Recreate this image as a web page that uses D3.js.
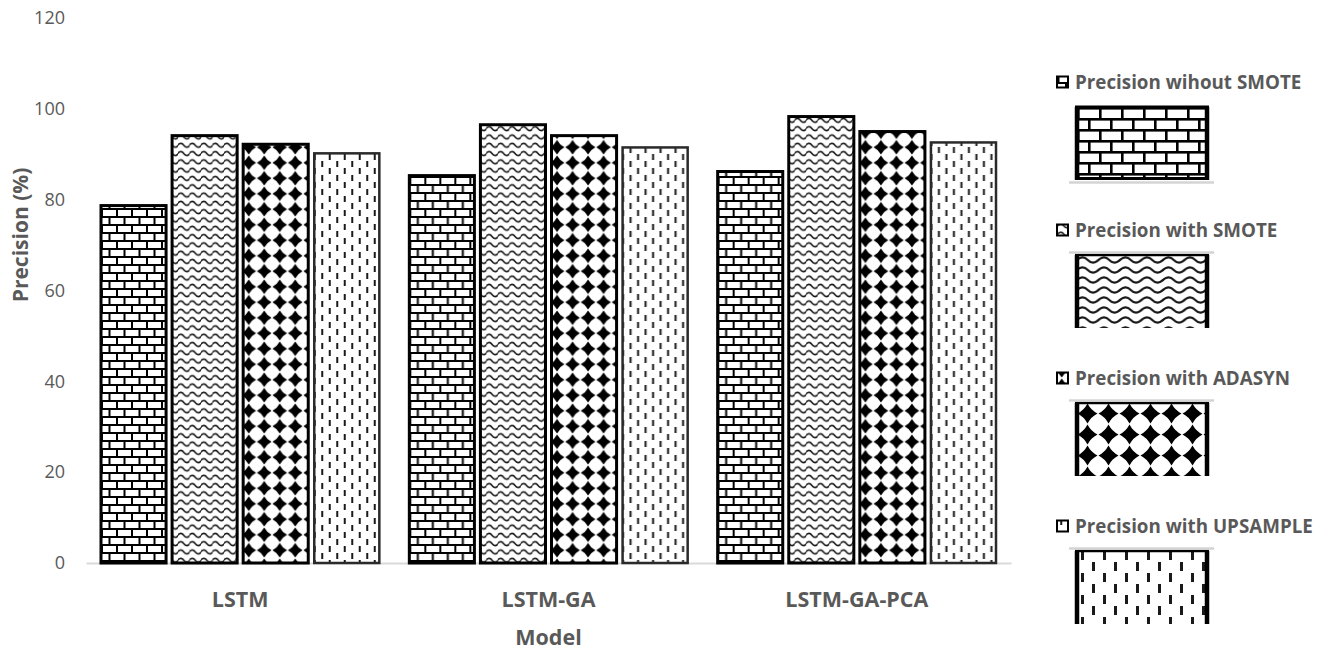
<!DOCTYPE html>
<html>
<head>
<meta charset="utf-8">
<script src="https://cdn.jsdelivr.net/npm/d3@7"></script>
<style>
  body { margin: 0; background: #fff; }
  text { font-family: "Open Sans", sans-serif; fill: #595959; }
</style>
</head>
<body>
<svg id="chart" width="1327" height="650"></svg>
<script>
// Precision (%) per model for each resampling strategy
const models = ["LSTM", "LSTM-GA", "LSTM-GA-PCA"];
const seriesNames = [
  "Precision wihout SMOTE",
  "Precision with SMOTE",
  "Precision with ADASYN",
  "Precision with UPSAMPLE"
];
const precisionNoSmote  = [78.7, 85.3, 86.2];
const precisionSmote    = [94.1, 96.5, 98.3];
const precisionAdasyn   = [92.2, 94.1, 95.0];
const precisionUpsample = [90.2, 91.5, 92.6];
const yTicks = [0, 20, 40, 60, 80, 100, 120];

const seriesValues = [precisionNoSmote, precisionSmote, precisionAdasyn, precisionUpsample];

const svg = d3.select("#chart");
const defs = svg.append("defs");

// ---- hatch patterns -------------------------------------------------------
function addPattern(id, w, h) {
  const p = defs.append("pattern")
    .attr("id", id)
    .attr("patternUnits", "userSpaceOnUse")
    .attr("width", w).attr("height", h);
  p.append("rect").attr("width", w).attr("height", h).attr("fill", "#fff");
  return p;
}
function brick(id, w, h, lw) {
  const p = addPattern(id, w, h);
  const r = (x, y, rw, rh) => p.append("rect").attr("x", x).attr("y", y)
    .attr("width", rw).attr("height", rh).attr("fill", "#000");
  r(0, 0, w, lw); r(0, h / 2, w, lw);
  r(0, 0, lw, h / 2); r(w / 2, h / 2, lw, h / 2);
}
function wave(id, w, h, amp, lw) {
  const p = addPattern(id, w, h);
  const m = h / 2;
  p.append("path")
    .attr("d", `M-1,${m + amp * 0.3} Q${w / 4},${m - 2 * amp} ${w / 2},${m} Q${3 * w / 4},${m + 2 * amp} ${w + 1},${m - amp * 0.3}`)
    .attr("fill", "none").attr("stroke", "#1a1a1a").attr("stroke-width", lw);
}
function diamond(id, s, r) {
  const p = addPattern(id, s, s);
  const c = s / 2, k = r * 0.34;
  p.append("path")
    .attr("d", `M${c},${c - r} Q${c + k},${c - k} ${c + r},${c} Q${c + k},${c + k} ${c},${c + r} Q${c - k},${c + k} ${c - r},${c} Q${c - k},${c - k} ${c},${c - r}Z`)
    .attr("fill", "#000");
}
function dash(id, w, h, dw, dh) {
  const p = addPattern(id, w, h);
  p.append("rect").attr("x", w / 4 - dw / 2).attr("y", 0).attr("width", dw).attr("height", dh).attr("fill", "#1a1a1a");
  p.append("rect").attr("x", 3 * w / 4 - dw / 2).attr("y", h / 2).attr("width", dw).attr("height", dh).attr("fill", "#1a1a1a");
}
// bar-sized and legend-sized versions
brick("p0", 15, 16, 2);   brick("l0", 22, 22, 2.6);
wave("p1", 11.5, 8.3, 2.1, 1.6); wave("l1", 21.5, 10, 2.8, 2.2);
diamond("p2", 15.5, 7.3); diamond("l2", 21, 10);
dash("p3", 15, 14, 2, 6); dash("l3", 22, 22, 3, 9);

// ---- scales ---------------------------------------------------------------
const y = d3.scaleLinear().domain([0, 120]).range([563, 18]);
const x0 = d3.scaleBand().domain(models).range([86, 1011]);
const x1 = d3.scaleBand().domain(d3.range(seriesNames.length))
  .range([15, x0.bandwidth() - 15]).paddingInner(6 / 71).paddingOuter(0);

// ---- axes -----------------------------------------------------------------
const yAxis = svg.append("g").attr("transform", "translate(86,0)")
  .call(d3.axisLeft(y).tickValues(yTicks).tickSize(0).tickPadding(21));
yAxis.select(".domain").remove();
yAxis.selectAll("text").attr("font-size", 18).attr("font-family", "Open Sans").attr("fill", "#595959");

const xAxis = svg.append("g").attr("transform", "translate(0,563)")
  .call(d3.axisBottom(x0).tickSize(0).tickSizeOuter(0).tickPadding(29));
xAxis.select(".domain").attr("stroke", "#d9d9d9").attr("stroke-width", 2);
xAxis.selectAll("text").attr("font-size", 21.5).attr("font-weight", 700)
  .attr("font-family", "Open Sans").attr("fill", "#595959");

svg.append("text").attr("x", (86 + 1011) / 2).attr("y", 645)
  .attr("text-anchor", "middle").attr("font-size", 21.5).attr("font-weight", 700)
  .text("Model");
svg.append("text").attr("transform", "translate(28,235) rotate(-90)")
  .attr("text-anchor", "middle").attr("font-size", 21).attr("font-weight", 700)
  .text("Precision (%)");

// ---- bars -----------------------------------------------------------------
const groups = svg.append("g").selectAll("g").data(models).join("g")
  .attr("transform", d => `translate(${x0(d)},0)`);
groups.selectAll("rect")
  .data((m, mi) => seriesValues.map((vals, si) => ({ si, v: vals[mi] })))
  .join("rect")
  .attr("x", d => x1(d.si))
  .attr("width", x1.bandwidth())
  .attr("y", d => y(d.v))
  .attr("height", d => y(0) - y(d.v))
  .attr("fill", d => `url(#p${d.si})`)
  .attr("stroke", d => d.si === 3 ? "#2a2a2a" : "#000")
  .attr("stroke-width", d => d.si === 3 ? 2.5 : 3);

// ---- legend ---------------------------------------------------------------
const legend = svg.append("g").selectAll("g").data(seriesNames).join("g")
  .attr("transform", (d, i) => `translate(0,${82 + i * 148})`);
legend.append("rect")
  .attr("x", 1057).attr("y", -5.5).attr("width", 11).attr("height", 11)
  .attr("fill", (d, i) => `url(#p${i})`).attr("stroke", "#000").attr("stroke-width", 2);
legend.append("text")
  .attr("x", 1075).attr("y", 0).attr("dy", "0.36em")
  .attr("font-size", 18.8).attr("font-weight", 700)
  .text(d => d);

// pattern swatch below each entry
const sw = legend.append("g").attr("transform", "translate(1077,25)");
sw.append("rect").attr("width", 130).attr("height", 73)
  .attr("fill", (d, i) => `url(#l${i})`);
sw.append("line").attr("x1", 0).attr("x2", 0).attr("y1", 0).attr("y2", 73)
  .attr("stroke", "#000").attr("stroke-width", 4.5);
sw.append("line").attr("x1", 130).attr("x2", 130).attr("y1", 0).attr("y2", 73)
  .attr("stroke", "#000").attr("stroke-width", 4.5);
sw.append("line").attr("x1", -2).attr("x2", 132).attr("y1", 0).attr("y2", 0)
  .attr("stroke", "#000").attr("stroke-width", (d, i) => i === 0 ? 3 : 2.5);
sw.filter((d, i) => i === 0).append("line")
  .attr("x1", -2).attr("x2", 132).attr("y1", 71.5).attr("y2", 71.5)
  .attr("stroke", "#000").attr("stroke-width", 3);
sw.append("line")
  .attr("x1", -8).attr("x2", 137)
  .attr("y1", (d, i) => i === 0 ? 75.5 : -2.5).attr("y2", (d, i) => i === 0 ? 75.5 : -2.5)
  .attr("stroke", "#d4d4d4").attr("stroke-width", 2.5);
</script>
</body>
</html>
